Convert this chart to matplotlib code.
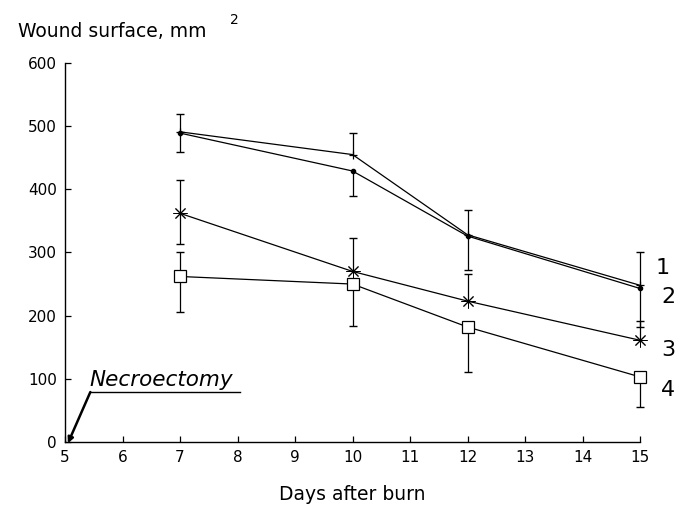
import numpy as np
import matplotlib.pyplot as plt

plt.rcParams['font.family'] = ['DejaVu Sans']

# days after burn and mean wound surface (mm^2) for the four groups
days = [7, 10, 12, 15]
group1 = [491, 455, 328, 248]
group2 = [489, 429, 326, 243]
group3 = [362, 270, 223, 161]
group4 = [262, 250, 182, 103]

# error bars are drawn one-sided where groups overlap (lower, upper)
group1_lo = [0, 0, 0, 0]
group1_hi = [29, 34, 40, 52]
group2_lo = [30, 40, 54, 61]
group2_hi = [0, 0, 0, 0]
group3_lo = [49, 0, 0, 0]
group3_hi = [52, 53, 43, 30]
group4_lo = [57, 66, 72, 47]
group4_hi = [39, 0, 0, 0]

group_labels = ['1', '2', '3', '4']
label_pos = [(15.40, 275), (15.49, 229), (15.49, 146), (15.49, 82)]

xticks = list(range(5, 16))
yticks = [0, 100, 200, 300, 400, 500, 600]

fig = plt.figure(figsize=(6.76, 5.08), dpi=100)
ax = fig.add_axes([0.0962, 0.130, 0.8506, 0.746])


def draw_errors(x, y, lo, hi):
    for xi, yi, l, h in zip(x, y, lo, hi):
        for end in (yi - l, yi + h):
            if end != yi:
                ax.vlines(xi, min(yi, end), max(yi, end), color='black', lw=0.9,
                          clip_on=False)
                ax.plot(xi, end, marker='_', markersize=6, mew=1.0, color='black',
                        clip_on=False)


draw_errors(days, group1, group1_lo, group1_hi)
draw_errors(days, group2, group2_lo, group2_hi)
draw_errors(days, group3, group3_lo, group3_hi)
draw_errors(days, group4, group4_lo, group4_hi)

ax.plot(days, group1, color='black', lw=0.9, marker='+', markersize=6, mew=0.9,
        clip_on=False)
ax.plot(days, group2, color='black', lw=0.9, marker='o', markersize=3,
        clip_on=False)
ax.plot(days, group3, color='black', lw=0.9, marker=(8, 2, 0), markersize=10,
        mew=0.7, clip_on=False)
ax.plot(days, group4, color='black', lw=0.9, marker='s', markersize=8,
        mfc='white', mew=0.9, clip_on=False)

for lab, (lx, ly) in zip(group_labels, label_pos):
    ax.text(lx, ly, lab, fontsize=16, ha='center', va='center', clip_on=False)

# necroectomy marker
ax.plot([5.44, 8.05], [79, 79], color='black', lw=1.0)
ax.annotate('', xy=(5.05, -2), xytext=(5.44, 79),
            arrowprops=dict(arrowstyle='-|>', color='black', lw=1.8,
                            mutation_scale=8, shrinkA=0, shrinkB=0),
            annotation_clip=False)
ax.text(5.43, 83, 'Necroectomy', fontsize=15.5, style='italic',
        ha='left', va='bottom')

ax.set_xlim(5, 15)
ax.set_ylim(0, 600)
ax.set_xticks(xticks)
ax.set_yticks(yticks)
ax.tick_params(direction='in', length=4, width=0.9, labelsize=11, pad=6)
ax.spines['top'].set_visible(False)
ax.spines['right'].set_visible(False)
ax.spines['left'].set_linewidth(1.0)
ax.spines['bottom'].set_linewidth(1.0)

ax.set_xlabel('Days after burn', fontsize=13.5, labelpad=14)
fig.text(0.027, 0.927, 'Wound surface, mm', fontsize=13.5, ha='left', va='baseline')
fig.text(0.340, 0.952, '2', fontsize=10, ha='left', va='baseline')

fig.savefig('out.png', dpi=100)
